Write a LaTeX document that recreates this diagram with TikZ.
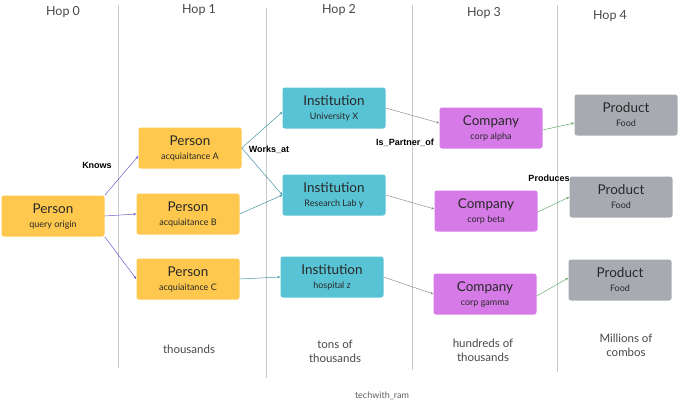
\documentclass[tikz,border=0pt]{standalone}
\usepackage{fontspec}
\setmainfont{Lato}
\newfontfamily\lblfont{Liberation Sans}
\usetikzlibrary{arrows.meta}
\definecolor{pcol}{RGB}{253,200,77}
\definecolor{icol}{RGB}{88,195,212}
\definecolor{ccol}{RGB}{214,122,232}
\definecolor{gcol}{RGB}{167,171,177}
\definecolor{kcol}{RGB}{105,95,205}
\definecolor{wcol}{RGB}{70,150,165}
\definecolor{ipcol}{RGB}{150,140,135}
\definecolor{prcol}{RGB}{100,170,110}
\definecolor{vline}{RGB}{200,200,200}
\definecolor{txt}{RGB}{40,40,40}
\tikzset{
  box/.style={rounded corners=2.5pt, minimum width=103pt, minimum height=41pt, inner sep=0pt, text=txt, align=center},
  personbox/.style={box, fill=pcol},
  instbox/.style={box, fill=icol},
  compbox/.style={box, fill=ccol},
  prodbox/.style={box, fill=gcol},
  hop/.style={font=\fontsize{12.5}{15}\selectfont, text=txt!85},
  bot/.style={font=\fontsize{11.5}{14}\selectfont, text=txt!85, align=center},
  elabel/.style={font=\lblfont\bfseries\fontsize{9}{11}\selectfont, text=black},
  conn/.style={line width=0.5pt, -{Stealth[length=3pt,width=2.5pt]}},
}
\newcommand{\nd}[2]{{\fontsize{13.5}{15}\selectfont #1}\\[2pt]{\fontsize{9}{10}\selectfont #2}}
\begin{document}
\begin{tikzpicture}[x=1pt,y=-1pt]
\useasboundingbox (0,0) rectangle (680,404);
% vertical separators
\draw[vline, line width=0.6pt] (118,5) -- (118,368);
\draw[vline, line width=0.6pt] (266,8) -- (266,378);
\draw[vline, line width=0.6pt] (412,5) -- (412,370);
\draw[vline, line width=0.6pt] (557,5) -- (557,372);
% hop labels
\node[hop] (h0) at (63,12) {Hop 0};
\node[hop] (h1) at (199,10) {Hop 1};
\node[hop] (h2) at (339,10) {Hop 2};
\node[hop] (h3) at (484,13) {Hop 3};
\node[hop] (h4) at (610,16) {Hop 4};
% nodes
\node[personbox] (o) at (53,216) {\nd{Person}{query origin}};
\node[personbox] (pa) at (190,148) {\nd{Person}{acquiaitance A}};
\node[personbox] (pb) at (188,214) {\nd{Person}{acquiaitance B}};
\node[personbox] (pc) at (188,279) {\nd{Person}{acquiaitance C}};
\node[instbox] (iu) at (334,108) {\nd{Institution}{University X}};
\node[instbox] (ir) at (334,195) {\nd{Institution}{Research Lab y}};
\node[instbox] (ih) at (332,277) {\nd{Institution}{hospital z}};
\node[compbox] (ca) at (491,128) {\nd{Company}{corp alpha}};
\node[compbox] (cb) at (486,211) {\nd{Company}{corp beta}};
\node[compbox] (cg) at (485,294) {\nd{Company}{corp gamma}};
\node[prodbox] (p1) at (626,115) {\nd{Product}{Food}};
\node[prodbox] (p2) at (621,197) {\nd{Product}{Food}};
\node[prodbox] (p3) at (620,280) {\nd{Product}{Food}};
% Knows
\draw[conn, kcol] (o.north east) -- ([yshift=-8pt]pa.west);
\draw[conn, kcol] (o.east) -- (pb.west);
\draw[conn, kcol] (o.south east) -- (pc.west);
% Works_at
\draw[conn, wcol] (pa.east) -- ([yshift=-4pt]iu.west);
\draw[conn, wcol] (pa.east) -- (ir.west);
\draw[conn, wcol] (pb.east) -- (ir.west);
\draw[conn, wcol] (pc.east) -- (ih.west);
% Is_Partner_of
\draw[conn, ipcol] (iu.east) -- ([yshift=5pt]ca.west);
\draw[conn, ipcol] (ir.east) -- ([yshift=2pt]cb.west);
\draw[conn, ipcol] (ih.east) -- (cg.west);
% Produces
\draw[conn, prcol] ([yshift=-2pt]ca.east) -- ([yshift=-8pt]p1.west);
\draw[conn, prcol] ([yshift=-1pt]cb.east) -- (p2.west);
\draw[conn, prcol] ([yshift=-2pt]cg.east) -- ([yshift=2pt]p3.west);
% edge labels
\node[elabel] (lk) at (97,165) {Knows};
\node[elabel] (lw) at (269,150) {Works\_at};
\node[elabel] (lp) at (405,143) {Is\_Partner\_of};
\node[elabel] (lpr) at (549,178) {Produces};
% bottom texts
\node[bot] (b1) at (189,349) {thousands};
\node[bot] (b2) at (335,351) {tons of\\thousands};
\node[bot] (b3) at (483,350) {hundreds of\\thousands};
\node[bot] (b4) at (626,345) {Millions of\\combos};
\node[font=\fontsize{9}{11}\selectfont, text=txt!75] (sig) at (382,396) {techwith\_ram};
\end{tikzpicture}
\end{document}
